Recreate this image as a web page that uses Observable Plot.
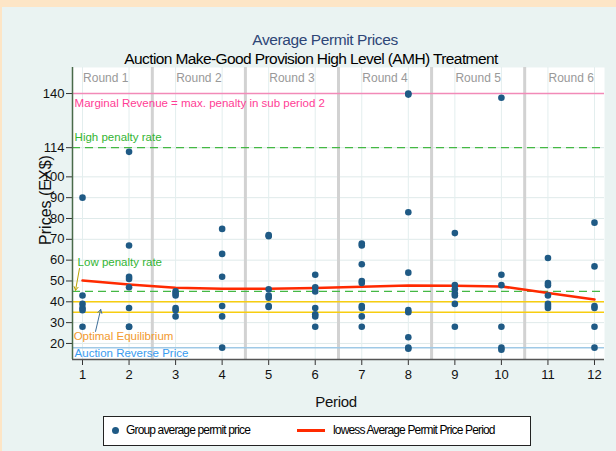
<!DOCTYPE html>
<html><head><meta charset="utf-8">
<script src="https://cdn.jsdelivr.net/npm/d3@7"></script>
<script src="https://cdn.jsdelivr.net/npm/@observablehq/plot@0.6"></script>
<style>
body{margin:0;background:#fde5c6;font-family:"Liberation Sans",Arial,sans-serif;}
#wrap{position:relative;width:616px;height:451px;overflow:hidden;}
#panel{position:absolute;left:2px;top:7px;width:614px;height:444px;background:#eaf3f2;}
.t{position:absolute;white-space:nowrap;}
#chart{position:absolute;left:0;top:0;}
</style></head><body>
<div id="wrap">
<div id="panel"></div>
<div id="chart"></div>
<div class="t" style="left:0;width:650px;top:31px;text-align:center;font-size:15.5px;letter-spacing:-0.4px;color:#2e4677;">Average Permit Prices</div>
<div class="t" style="left:0;width:622px;top:50px;text-align:center;font-size:15.5px;color:#000;letter-spacing:-0.6px;">Auction Make-Good Provision High Level (AMH) Treatment</div>
<div class="t" style="left:46px;top:200px;font-size:16px;color:#111;transform:translate(-50%,-50%) rotate(-90deg);">Prices (EX$)</div>
<div class="t" style="left:0;width:672px;top:393px;text-align:center;font-size:15px;color:#111;letter-spacing:-0.3px;">Period</div>
<div id="legend" style="position:absolute;left:103px;top:416px;width:426px;height:28px;background:#fff;border:1px solid #222;font-size:12px;letter-spacing:-0.85px;">
  <span style="position:absolute;left:8px;top:10px;width:7px;height:7px;border-radius:50%;background:#1f5a85;"></span>
  <span class="t" style="left:22px;top:6px;">Group average permit price</span>
  <span style="position:absolute;left:193px;top:12px;width:28px;height:3px;background:#ff2a00;"></span>
  <span class="t" style="left:229px;top:6px;">lowess Average Permit Price Period</span>
</div>
</div>
<script>
// ---- data ----
const periods = [1,2,3,4,5,6,7,8,9,10,11,12];
const groupPrices = [
  [90, 43, 39, 37, 36, 28],
  [112, 67, 52, 51, 47, 37, 28, 28],
  [45, 44, 43, 37, 36, 33],
  [75, 63, 52, 38, 33, 18],
  [72, 71.5, 46, 43, 42, 38, 37.5],
  [53, 47, 45, 37, 34, 33, 28],
  [68, 67, 58, 50, 49, 38, 37, 33, 28],
  [140, 139.5, 83, 54, 36, 35, 23, 18, 17.5],
  [73, 48, 46, 44, 43, 39, 28],
  [138, 53, 48, 28, 18, 17],
  [61, 49, 48, 43, 39, 38, 37],
  [78, 57, 38, 37, 28, 18]
];
const lowessValues = [50.2, 48.3, 46.8, 46.3, 46.3, 46.6, 47.2, 47.8, 47.7, 47.4, 44.2, 41.1];
const yTicks = [20, 30, 40, 50, 60, 70, 80, 90, 100, 114, 140];
const roundLabels = ["Round 1","Round 2","Round 3","Round 4","Round 5","Round 6"];
const roundCenters = [1.5, 3.5, 5.5, 7.5, 9.5, 11.5];
const roundDividers = [2.5, 4.5, 6.5, 8.5, 10.5];
const marginalRevenue = [140];
const penaltyRates = [114, 45];
const optimalEquilibrium = [40, 35];
const reversePrice = [18];

const points = periods.flatMap((p, i) => groupPrices[i].map(v => ({period: p, price: v})));
const lowess = periods.map((p, i) => ({period: p, price: lowessValues[i]}));
const rounds = roundLabels.map((r, i) => ({label: r, x: roundCenters[i]}));

const font = '"Liberation Sans",Arial,sans-serif';
const ann = {textAnchor: "start", fontSize: 11.5, letterSpacing: -1};
const chart = Plot.plot({
  width: 616, height: 451,
  marginLeft: 72, marginRight: 12, marginTop: 67, marginBottom: 92,
  style: {background: "transparent", fontFamily: font, fontSize: "13px", color: "#111"},
  x: {domain: [0.785, 12.215]},
  y: {domain: [12.3, 152.5]},
  marks: [
    Plot.frame({fill: "white", stroke: null}),
    Plot.gridY(yTicks, {stroke: "#dfeaea", strokeOpacity: 1, strokeWidth: 1}),
    Plot.gridX(periods, {stroke: "#e3eeee", strokeOpacity: 1, strokeWidth: 1}),
    Plot.ruleX(roundDividers, {stroke: "#d2d2d2", strokeWidth: 3}),
    Plot.ruleY(marginalRevenue, {stroke: "#f28ab8", strokeWidth: 1.5}),
    Plot.ruleY(penaltyRates, {stroke: "#44b844", strokeWidth: 1.3, strokeDasharray: "8,5"}),
    Plot.ruleY(optimalEquilibrium, {stroke: "#f7cd10", strokeWidth: 1.5}),
    Plot.ruleY(reversePrice, {stroke: "#9fc9e6", strokeWidth: 1.5}),
    Plot.text(rounds, {x: "x", y: 147.2, text: "label", fill: "#999", fontSize: 12, letterSpacing: -0.7}),
    Plot.text(["Marginal Revenue = max. penalty in sub period 2"], {...ann, x: 0.83, y: 135.2, text: d => d, fill: "#ff3d95"}),
    Plot.text(["High penalty rate"], {...ann, x: 0.83, y: 118.9, text: d => d, fill: "#33b533"}),
    Plot.text(["Low penalty rate"], {...ann, x: 0.895, y: 58.9, text: d => d, fill: "#33b533"}),
    Plot.text(["Optimal Equilibrium"], {...ann, x: 0.81, y: 23.3, text: d => d, fill: "#f29a2e"}),
    Plot.text(["Auction Reverse Price"], {...ann, x: 0.83, y: 15.2, text: d => d, fill: "#3a9cf0", letterSpacing: -0.8}),
    Plot.arrow([0], {x1: 0.935, y1: 56, x2: 0.85, y2: 45.5, stroke: "#b9a300", strokeWidth: 1, headLength: 6}),
    Plot.arrow([0], {x1: 1.28, y1: 25.8, x2: 1.39, y2: 36.3, stroke: "#3f6f9a", strokeWidth: 1, headLength: 6}),
    Plot.line(lowess, {x: "period", y: "price", stroke: "#ff2a00", strokeWidth: 2.5}),
    Plot.dot(points, {x: "period", y: "price", r: 3.3, fill: "#1f5a85", stroke: null}),
    Plot.axisY(yTicks, {tickSize: 6, tickPadding: 2, label: null, fontSize: 13, stroke: "#333"}),
    Plot.axisX(periods, {tickSize: 6, tickPadding: 4, label: null, fontSize: 13, stroke: "#333"}),
    Plot.ruleX([0.785], {stroke: "#4a6a4a", strokeWidth: 1.5}),
    Plot.ruleY([12.3], {stroke: "#555", strokeWidth: 1.5})
  ]
});
document.getElementById("chart").appendChild(chart);
</script>
</body></html>
